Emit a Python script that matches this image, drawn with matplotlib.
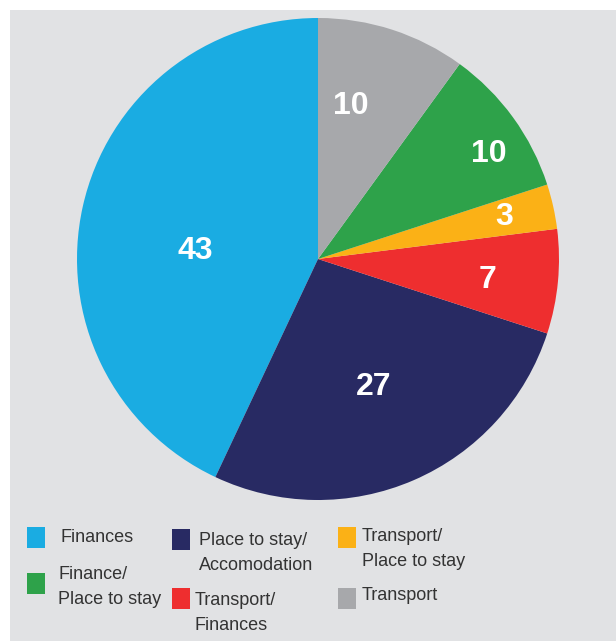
import matplotlib.pyplot as plt
from matplotlib.patches import Rectangle
import numpy as np

# Slice values, counter-clockwise from 12 o'clock
categories = ["Finances", "Place to stay/\nAccomodation", "Transport/\nFinances",
              "Transport/\nPlace to stay", "Finance/\nPlace to stay", "Transport"]
values = [43, 27, 7, 3, 10, 10]
colours = ["#1aace2", "#282a63", "#ee2e2f", "#fbb116", "#2ea24a", "#a7a8ab"]

# label radius (fraction of R) and angle nudge in degrees for each slice
label_r = [0.51, 0.58, 0.71, 0.79, 0.83, 0.65]
label_nudge = [9, 0, -1.5, 0, -4.5, 6]

W, H = 616, 641
fig = plt.figure(figsize=(W / 100, H / 100), dpi=100)
fig.patch.set_facecolor("white")
fig.patches.append(Rectangle((10 / W, 0), 1, 1 - 10 / H, transform=fig.transFigure,
                             facecolor="#e1e2e4", edgecolor="none", zorder=-10))

cx, cy, R = 318, 259, 241
ax = fig.add_axes([(cx - R) / W, (H - cy - R) / H, 2 * R / W, 2 * R / H])
ax.axis("off")

wedges, _ = ax.pie(values, colors=colours, startangle=90, counterclock=True,
                   radius=1, wedgeprops=dict(linewidth=0))
ax.set_xlim(-1, 1)
ax.set_ylim(-1, 1)

for w, v, r, d in zip(wedges, values, label_r, label_nudge):
    ang = np.deg2rad((w.theta1 + w.theta2) / 2 + d)
    ax.text(r * np.cos(ang), r * np.sin(ang), str(v), color="white",
            fontsize=23, fontweight="bold", family="Liberation Sans",
            ha="center", va="center")

# Legend laid out by hand in three columns
legend_order = [0, 4, 1, 2, 3, 5]
box_xy = [(27, 527), (27, 573), (172, 529), (172, 588), (338, 527), (338, 588)]
text_xy = [(60, 538), (58, 587), (199, 553), (195, 613), (362, 549), (362, 596)]
for idx, (bx, by), (tx, ty) in zip(legend_order, box_xy, text_xy):
    fig.patches.append(Rectangle((bx / W, 1 - (by + 21) / H), 18 / W, 21 / H,
                                 transform=fig.transFigure,
                                 facecolor=colours[idx], edgecolor="none"))
    fig.text(tx / W, 1 - ty / H, categories[idx], ha="left", va="center",
             fontsize=13, color="#333333", family="Liberation Sans",
             linespacing=1.55)

fig.savefig("out.png", dpi=100)
